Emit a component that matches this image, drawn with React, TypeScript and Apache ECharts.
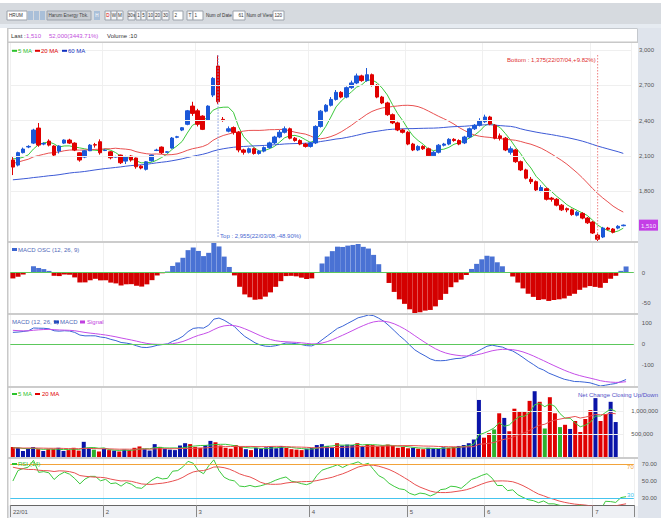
import React, { useEffect, useRef } from 'react';
import * as echarts from 'echarts';

// ---------- DATA ----------
const monthDays: [string, number[]][] = [
  ['01', [6, 7, 10, 11, 12, 13, 14, 17, 18, 19, 20, 21, 24, 25, 26, 27, 28, 31]],
  ['02', [2, 3, 4, 7, 8, 9, 10, 11, 14, 15, 16, 17, 18, 21, 22, 23, 24, 25]],
  ['03', [1, 2, 4, 7, 8, 9, 10, 11, 14, 15, 16, 17, 18, 21, 22, 23, 24, 25, 28, 29, 30, 31]],
  ['04', [1, 4, 5, 6, 7, 8, 11, 12, 13, 14, 18, 19, 20, 21, 22, 25, 26, 27, 28]],
  ['05', [9, 10, 11, 12, 13, 17, 18, 19, 20, 23, 24, 25, 27, 30, 31]],
  ['06', [2, 3, 6, 7, 8, 9, 10, 13, 14, 15, 16, 17, 20, 21, 22, 23, 24, 27, 28, 29, 30]],
  ['07', [1, 4, 5, 6, 7, 8, 11]],
];
const monthLabels = ['22/01', '2', '3', '4', '5', '6', '7'];

const opens = [
  2064, 2021, 2127, 2175, 2208, 2336, 2200, 2225, 2183, 2140, 2208, 2234, 2208, 2126, 2089, 2143, 2195, 2220, 2145, 2134,
  2090, 2106, 2055, 2098, 2081, 2012, 1985, 2058, 2145, 2174, 2130, 2166, 2258, 2319, 2368, 2523, 2483, 2438, 2404, 2617,
  2864, 2410, 2310, 2340, 2300, 2150, 2130, 2160, 2120, 2140, 2170, 2210, 2260, 2300, 2330, 2250, 2230, 2200, 2180, 2210,
  2350, 2480, 2530, 2580, 2640, 2600, 2680, 2720, 2780, 2740, 2790, 2700, 2600, 2550, 2450, 2380, 2320, 2300, 2200, 2150,
  2180, 2160, 2100, 2130, 2190, 2200, 2240, 2230, 2210, 2260, 2330, 2360, 2390, 2430, 2360, 2270, 2250, 2130, 2150, 2050,
  1980, 1900, 1880, 1800, 1820, 1740, 1730, 1680, 1650, 1640, 1595, 1610, 1570, 1536, 1425, 1409, 1485, 1477, 1485, 1505,
];
const closes = [
  2004, 2127, 2157, 2180, 2319, 2191, 2205, 2191, 2106, 2183, 2234, 2208, 2149, 2064, 2143, 2191, 2191, 2126, 2149, 2083,
  2092, 2041, 2092, 2064, 2007, 1996, 2049, 2106, 2149, 2126, 2134, 2251, 2262, 2339, 2483, 2461, 2368, 2325, 2523, 2759,
  2560, 2400, 2330, 2300, 2150, 2130, 2160, 2120, 2140, 2170, 2210, 2260, 2300, 2330, 2250, 2230, 2200, 2180, 2210, 2350,
  2480, 2530, 2580, 2640, 2600, 2680, 2720, 2780, 2740, 2790, 2700, 2600, 2550, 2450, 2380, 2320, 2300, 2200, 2150, 2180,
  2160, 2100, 2130, 2190, 2200, 2240, 2230, 2200, 2260, 2330, 2360, 2400, 2430, 2370, 2250, 2250, 2150, 2160, 2050, 1980,
  1910, 1880, 1810, 1830, 1730, 1730, 1680, 1640, 1640, 1600, 1620, 1570, 1530, 1443, 1390, 1485, 1475, 1450, 1500, 1510,
];
const lows = [
  1936, 2010, 2120, 2165, 2200, 2177, 2190, 2180, 2090, 2120, 2200, 2200, 2140, 2050, 2080, 2140, 2170, 2110, 2140, 2070,
  2085, 2030, 2030, 2050, 1990, 1985, 1975, 2050, 2140, 2115, 2125, 2160, 2250, 2310, 2360, 2440, 2350, 2319, 2400, 2600,
  2540, 2390, 2300, 2280, 2130, 2110, 2120, 2110, 2110, 2130, 2160, 2200, 2250, 2290, 2240, 2220, 2190, 2170, 2170, 2200,
  2340, 2470, 2520, 2570, 2590, 2590, 2670, 2710, 2730, 2730, 2690, 2590, 2540, 2440, 2370, 2310, 2290, 2190, 2140, 2140,
  2150, 2090, 2090, 2120, 2180, 2190, 2220, 2190, 2200, 2250, 2320, 2350, 2380, 2360, 2240, 2230, 2140, 2110, 2040, 1970,
  1900, 1860, 1800, 1790, 1720, 1710, 1670, 1630, 1620, 1590, 1585, 1560, 1520, 1435, 1375, 1400, 1465, 1440, 1475, 1500,
];
const highs = [
  2089, 2135, 2170, 2190, 2330, 2379, 2215, 2240, 2190, 2190, 2240, 2245, 2215, 2130, 2150, 2200, 2210, 2240, 2155, 2140,
  2100, 2110, 2100, 2105, 2085, 2020, 2055, 2110, 2160, 2180, 2140, 2260, 2270, 2345, 2490, 2560, 2500, 2445, 2530, 2770,
  2955, 2430, 2350, 2350, 2310, 2160, 2170, 2170, 2150, 2180, 2220, 2270, 2320, 2350, 2340, 2260, 2240, 2210, 2220, 2360,
  2490, 2540, 2600, 2660, 2650, 2690, 2740, 2800, 2790, 2847, 2800, 2710, 2610, 2560, 2460, 2390, 2330, 2310, 2210, 2190,
  2190, 2170, 2140, 2200, 2210, 2250, 2250, 2240, 2270, 2340, 2370, 2420, 2450, 2440, 2370, 2290, 2260, 2180, 2160, 2060,
  1990, 1920, 1890, 1850, 1830, 1750, 1740, 1690, 1660, 1650, 1630, 1620, 1580, 1545, 1440, 1495, 1495, 1485, 1510, 1515,
];
const volumes = [
  217000, 200000, 130000, 180000, 217000, 170000, 130000, 170000, 170000, 200000, 130000, 150000, 200000, 140000, 330000, 200000, 160000, 120000, 180000, 150000,
  140000, 120000, 160000, 150000, 200000, 230000, 170000, 140000, 280000, 220000, 180000, 160000, 150000, 250000, 300000, 280000, 220000, 200000, 260000, 350000,
  320000, 250000, 200000, 180000, 260000, 220000, 170000, 150000, 200000, 180000, 210000, 230000, 190000, 240000, 200000, 170000, 160000, 150000, 180000, 200000,
  260000, 280000, 240000, 220000, 300000, 250000, 270000, 260000, 300000, 240000, 280000, 260000, 230000, 250000, 270000, 240000, 200000, 220000, 190000, 200000,
  180000, 170000, 200000, 190000, 180000, 210000, 200000, 220000, 240000, 260000, 300000, 380000, 1240000, 420000, 520000, 600000, 950000, 850000, 560000, 1050000,
  980000, 1000000, 1220000, 1430000, 1200000, 620000, 1300000, 950000, 650000, 700000, 610000, 783000, 543000, 826000, 1020000, 1280000, 783000, 935000, 1200000, 760000,
];
// estimated closes/volumes before the visible window (needed for MA/MACD/RSI warm-up)
const priorCloses = [
  1900, 1880, 1920, 1950, 1930, 1890, 1860, 1880, 1850, 1820, 1800, 1830, 1860, 1840, 1810, 1790, 1770, 1800, 1820, 1790,
  1760, 1740, 1760, 1790, 1810, 1780, 1750, 1770, 1800, 1830, 1820, 1790, 1810, 1840, 1860, 1830, 1800, 1820, 1850, 1870,
  1880, 1910, 1940, 1920, 1960, 2000, 1980, 2030, 2060, 2040, 2090, 2120, 2100, 2130, 2150, 2120, 2100, 2080, 2070,
];
const priorVolumes = [
  180000, 200000, 160000, 210000, 190000, 170000, 220000, 180000, 200000, 190000, 230000, 210000, 180000, 200000, 220000, 190000, 210000, 200000, 180000,
];

const priceTicks = [1800, 2100, 2400, 2700, 3000];
const oscTicks = [0, -50];
const macdTicks = [100, 0, -100];
const volTicks = [500000, 1000000];
const rsiTicks = [30, 50, 70];

// ---------- HELPERS ----------
const W = 661, H = 518;
const FONT = 'Liberation Sans';
const GL = 10.3, GW = 623.5;

function sma(arr: number[], n: number) {
  return arr.map((_, i) => {
    if (i < n - 1) return null;
    let s = 0;
    for (let k = i - n + 1; k <= i; k++) s += arr[k];
    return s / n;
  });
}
function ema(arr: number[], n: number) {
  const k = 2 / (n + 1);
  let e = arr[0];
  return arr.map((v, i) => (i === 0 ? e : (e = v * k + e * (1 - k))));
}
function rsi(arr: number[], n: number) {
  const out: (number | null)[] = [null];
  let ag = 0, al = 0;
  for (let i = 1; i < arr.length; i++) {
    const d = arr[i] - arr[i - 1];
    const g = Math.max(d, 0), l = Math.max(-d, 0);
    if (i <= n) {
      ag += g / n; al += l / n;
      out.push(i === n ? 100 - 100 / (1 + ag / (al || 1e-9)) : null);
    } else {
      ag = (ag * (n - 1) + g) / n; al = (al * (n - 1) + l) / n;
      out.push(100 - 100 / (1 + ag / (al || 1e-9)));
    }
  }
  return out;
}
const fmt = (v: number) => v.toLocaleString('en-US');

export default function App() {
  const ref = useRef<HTMLDivElement>(null);
  useEffect(() => {
    const el = ref.current!;
    const chart = echarts.init(el, null, { renderer: 'svg', width: W, height: H });
    const N = closes.length;
    const dates: string[] = [];
    const monthStart: Record<number, string> = {};
    monthDays.forEach(([m, days], mi) => {
      monthStart[dates.length] = monthLabels[mi];
      days.forEach((d) => dates.push(`22/${m}/${String(d).padStart(2, '0')}`));
    });
    const cats = dates.concat(['']);
    const isMonth = (i: number) => monthStart[i] !== undefined;

    const all = priorCloses.concat(closes);
    const P = priorCloses.length;
    const tail = (a: (number | null)[]) => a.slice(P);
    const ma5 = tail(sma(all, 5));
    const ma20 = tail(sma(all, 20));
    const ma60 = tail(sma(all, 60));
    const e12 = ema(all, 12), e26 = ema(all, 26);
    const macdAll = e12.map((v, i) => v - e26[i]);
    const sigAll = ema(macdAll, 9);
    const macd = macdAll.slice(P);
    const sig = sigAll.slice(P);
    const osc = macd.map((v, i) => v - sig[i]);
    const rsiAll = rsi(all, 14);
    const rsiSig = sma(rsiAll.map((v) => (v == null ? 0 : v)), 9);
    const rsiV = tail(rsiAll);
    const rsiS = tail(rsiSig);
    const vAll = priorVolumes.concat(volumes);
    const PV = priorVolumes.length;
    const vma5 = sma(vAll, 5).slice(PV);
    const vma20 = sma(vAll, 20).slice(PV);

    const grids = [
      { top: 43, height: 198 },
      { top: 243, height: 70 },
      { top: 315, height: 71 },
      { top: 388, height: 69 },
      { top: 459, height: 46 },
    ];
    const xAxes = grids.map((_, gi) => ({
      type: 'category',
      gridIndex: gi,
      data: cats,
      boundaryGap: true,
      axisLine: { show: gi === 4, lineStyle: { color: '#666', width: 1 } },
      axisTick: { show: gi === 4, interval: (i: number) => isMonth(i), length: 12, lineStyle: { color: '#888' } },
      axisLabel: {
        show: gi === 4,
        interval: (i: number) => isMonth(i),
        formatter: (_v: string, i: number) => monthStart[i] || '',
        align: 'left',
        margin: 4,
        fontSize: 6,
        fontFamily: FONT,
        color: '#555',
      },
      splitLine: { show: true, interval: (i: number) => isMonth(i), lineStyle: { color: '#f0f0f0', width: 1 } },
    }));
    const yBase = (gi: number, min: any, max: any, ticks: number[], formatter: any, extra: any = {}) => ({
      type: 'value',
      gridIndex: gi,
      position: 'right',
      min,
      max,
      scale: true,
      axisLine: { show: false },
      axisTick: { show: false },
      splitLine: { show: false },
      axisLabel: {
        customValues: ticks,
        formatter,
        fontSize: 6,
        fontFamily: FONT,
        color: '#555',
        align: 'left',
        margin: 8,
        ...extra,
      },
    });
    const lastClose = closes[N - 1];
    const yAxes = [
      yBase(0, 1375, 3060, priceTicks.concat([lastClose]), (v: number) => (v === lastClose ? `{hl|${fmt(v)}}` : fmt(v)), {
        rich: { hl: { backgroundColor: '#c43ee6', color: '#f4e8ff', fontSize: 6, fontFamily: FONT, padding: [3, 2, 2, 2] } },
      }),
      yBase(1, 'dataMin', 'dataMax', oscTicks, (v: number) => String(v)),
      yBase(2, 'dataMin', 'dataMax', macdTicks, (v: number) => String(v)),
      yBase(3, 0, 1500000, volTicks, (v: number) => fmt(v)),
      yBase(4, 21.8, 75.9, rsiTicks, (v: number) => v.toFixed(2)),
    ];

    const gridLines = (ticks: number[], color = '#efefef') => ({
      silent: true,
      symbol: 'none',
      label: { show: false },
      lineStyle: { color, type: 'solid', width: 1 },
      data: ticks.map((t) => ({ yAxis: t })),
    });
    const line = (gi: number, data: any[], color: string, z = 3) => ({
      type: 'line',
      xAxisIndex: gi,
      yAxisIndex: gi,
      data,
      symbol: 'none',
      lineStyle: { color, width: 1 },
      z,
    });

    const UP = '#1b58d8', DOWN = '#e00000';
    const series: any[] = [
      {
        type: 'candlestick',
        xAxisIndex: 0,
        yAxisIndex: 0,
        data: closes.map((c, i) => [opens[i], c, lows[i], highs[i]]),
        barWidth: 4,
        itemStyle: { color: UP, color0: DOWN, borderColor: UP, borderColor0: DOWN, borderWidth: 1 },
        markLine: gridLines(priceTicks),
        z: 4,
      },
      line(0, ma5, '#3cc83c'),
      line(0, ma20, '#e85050'),
      line(0, ma60, '#3d5ad6'),
      {
        type: 'bar',
        xAxisIndex: 1,
        yAxisIndex: 1,
        barWidth: 5,
        data: osc.map((v) => ({ value: v, itemStyle: { color: v >= 0 ? '#4a72d4' : '#d40000' } })),
        markLine: { ...gridLines([0], '#5cc85c'), z: 5 },
      },
      line(2, macd, '#3a64d6'),
      line(2, sig, '#c54ee8'),
      {
        type: 'line',
        xAxisIndex: 2,
        yAxisIndex: 2,
        data: [],
        markLine: gridLines([0], '#5cc85c'),
      },
      {
        type: 'bar',
        xAxisIndex: 3,
        yAxisIndex: 3,
        barWidth: 4,
        data: volumes.map((v, i) => {
          const prev = i === 0 ? priorCloses[P - 1] : closes[i - 1];
          const col = closes[i] > prev ? '#0a14a8' : closes[i] < prev ? '#e00000' : '#2fb02f';
          return { value: v, itemStyle: { color: col } };
        }),
        markLine: gridLines(volTicks),
      },
      line(3, vma5, '#3cc83c', 5),
      line(3, vma20, '#e85050', 5),
      line(4, rsiV, '#3cc83c'),
      line(4, rsiS, '#e85050'),
      {
        type: 'line',
        xAxisIndex: 4,
        yAxisIndex: 4,
        data: [],
        markLine: {
          silent: true,
          symbol: 'none',
          data: [
            { yAxis: 70, lineStyle: { color: '#f2a33a', width: 1, type: 'solid' }, label: { show: true, position: 'insideEndBottom', formatter: '70', color: '#f2a33a', fontSize: 6, fontFamily: FONT, distance: [0, 0] } },
            { yAxis: 30, lineStyle: { color: '#45c4ee', width: 1, type: 'solid' }, label: { show: true, position: 'insideEndTop', formatter: '30', color: '#45c4ee', fontSize: 6, fontFamily: FONT, distance: [0, 0] } },
          ],
        },
      },
    ];

    const txt = (x: number, y: number, text: string, fill = '#333', extra: any = {}) => ({
      type: 'text',
      x,
      y,
      style: { text, fill, fontSize: 6, fontFamily: FONT, verticalAlign: 'middle', ...extra },
      z: 100,
    });
    const ttxt = (x: number, y: number, text: string, fill = '#333', extra: any = {}) =>
      txt(x, y, text, fill, { fontSize: 4.6, ...extra });
    const rect = (x: number, y: number, w: number, h: number, style: any) => ({ type: 'rect', shape: { x, y, width: w, height: h }, style, z: 90 });
    const box = (x: number, w: number, label: string, fill = '#f4f5f7', color = '#333') => [
      rect(x, 11, w, 9, { fill, stroke: '#9ba2ab', lineWidth: 1 }),
      ttxt(x + w / 2, 15.8, label, color, { align: 'center' }),
    ];

    const bg: any[] = [
      { type: 'rect', shape: { x: 0, y: 0, width: W, height: H }, style: { fill: '#ffffff' }, z: -10, silent: true },
      { type: 'rect', shape: { x: 0, y: 3, width: W, height: 21 }, style: { fill: '#d6dadf' }, z: -9 },
      { type: 'rect', shape: { x: 0, y: 24, width: W, height: 4 }, style: { fill: '#e6ebf1' }, z: -9 },
      { type: 'rect', shape: { x: 638, y: 28, width: 23, height: 490 }, style: { fill: '#dfe4ec' }, z: -9 },
      { type: 'rect', shape: { x: 7, y: 506, width: 631, height: 12 }, style: { fill: '#eef0f4' }, z: -9 },
    ];
    const toolbar: any[] = [
      rect(7, 11, 20, 9, { fill: '#fff', stroke: '#9ba2ab', lineWidth: 1 }),
      ttxt(9, 15.8, 'HRUM', '#333'),
      rect(28, 11, 5, 9, { fill: '#a9bfd8' }),
      rect(34, 11, 5, 9, { fill: '#a9bfd8' }),
      rect(40, 11, 5, 9, { fill: '#a9bfd8' }),
      rect(47, 11, 44, 9, { fill: '#c8ccd2', stroke: '#9ba2ab', lineWidth: 1 }),
      ttxt(48.5, 15.8, 'Harum Energy Tbk.', '#444'),
      rect(94, 11, 6, 9, { fill: '#a9bfd8' }),
      ttxt(97, 15.8, 'H', '#fff', { align: 'center' }),
      ...box(105, 6, 'D', '#f4f5f7', '#e00000'),
      ...box(111, 6, 'W'),
      ...box(117, 6, 'M'),
      ...box(128, 7, '30s'),
      ...box(136, 5, '1'),
      ...box(141, 5, '5'),
      ...box(147, 7, '10'),
      ...box(154, 7, '20'),
      ...box(162, 7, '30'),
      rect(173, 11, 10, 9, { fill: '#fff', stroke: '#9ba2ab', lineWidth: 1 }),
      ttxt(174.5, 15.8, '2'),
      ...box(187, 6, 'T'),
      rect(193, 11, 10, 9, { fill: '#fff', stroke: '#9ba2ab', lineWidth: 1 }),
      ttxt(194.5, 15.8, '1'),
      ttxt(206, 15.8, 'Num of Date', '#333'),
      rect(233, 11, 12, 9, { fill: '#fff', stroke: '#9ba2ab', lineWidth: 1 }),
      ttxt(243.5, 15.8, '61', '#333', { align: 'right' }),
      ttxt(246.5, 15.8, 'Num of View', '#333'),
      rect(273, 11, 11, 9, { fill: '#fff', stroke: '#9ba2ab', lineWidth: 1 }),
      ttxt(274.5, 15.8, '120'),
    ];
    const frame: any[] = [
      { type: 'rect', shape: { x: 7.5, y: 28.5, width: 630, height: 14 }, style: { fill: 'none', stroke: '#c4c8cd', lineWidth: 1 }, z: 80 },
      rect(7, 41.5, 631, 1.5, { fill: '#c8c8c8' }),
      rect(7, 241, 631, 2, { fill: '#cccccc' }),
      rect(7, 313, 631, 2, { fill: '#cccccc' }),
      rect(7, 386, 631, 2, { fill: '#cccccc' }),
      rect(7, 457, 631, 2, { fill: '#cccccc' }),
      rect(7, 28, 1.5, 490, { fill: '#c8c8c8' }),
      txt(11, 36, 'Last : ', '#333'),
      txt(26, 36, fmt(lastClose), '#c24fdc'),
      txt(49, 36, '52,000(3443.71%)', '#c24fdc'),
      txt(107, 36, 'Volume :10', '#333'),
      // price legend
      rect(12, 49.8, 5, 2, { fill: '#2cc22c' }), txt(18, 51, '5 MA', '#2cc22c'),
      rect(35, 49.8, 5, 2, { fill: '#e00000' }), txt(41, 51, '20 MA', '#e00000'),
      rect(62, 49.8, 5, 2, { fill: '#1030c0' }), txt(68, 51, '60 MA', '#1030c0'),
      // osc legend
      rect(12, 248, 5, 3, { fill: '#3a64d0' }), txt(18, 249.5, 'MACD OSC (12, 26, 9)', '#5068b8'),
      // macd legend
      txt(12, 322, 'MACD (12, 26, 9)', '#5068b8'),
      rect(54, 320.5, 5, 3, { fill: '#1040c0' }), txt(60, 322, 'MACD', '#5068b8'),
      rect(80, 320.5, 5, 3, { fill: '#c040e0' }), txt(87, 322, 'Signal', '#c040e0'),
      // volume legend
      rect(12, 393, 5, 2, { fill: '#2cc22c' }), txt(18, 394, '5 MA', '#2cc22c'),
      rect(35, 393, 5, 2, { fill: '#e00000' }), txt(42, 394, '20 MA', '#e00000'),
      txt(578, 395, 'Net Change Closing Up/Down', '#5050c8'),
      // rsi legend
      rect(12, 463, 5, 2, { fill: '#2cc22c' }), txt(18, 464, 'RSI (14)', '#2cc22c'),
    ];

    const option: any = {
      animation: false,
      backgroundColor: '#ffffff',
      textStyle: { fontFamily: FONT },
      grid: grids.map((g) => ({ left: GL, width: GW, top: g.top, height: g.height, containLabel: false })),
      xAxis: xAxes,
      yAxis: yAxes,
      series,
      graphic: bg.concat(toolbar, frame),
    };
    chart.setOption(option);

    // annotations anchored to the data through the chart's own scales
    let topIdx = 0, botIdx = 0;
    highs.forEach((h, i) => { if (h > highs[topIdx]) topIdx = i; });
    lows.forEach((l, i) => { if (l < lows[botIdx]) botIdx = i; });
    const pTop = chart.convertToPixel({ gridIndex: 0 }, [topIdx, highs[topIdx]]) as number[];
    const pBot = chart.convertToPixel({ gridIndex: 0 }, [botIdx, lows[botIdx]]) as number[];
    const gTop = grids[0].top, gBot = grids[0].top + grids[0].height;
    const pct = (a: number, b: number) => ((a / b - 1) * 100).toFixed(2);
    const topText = `Top : ${fmt(highs[topIdx])}(${dates[topIdx]},${pct(lastClose, highs[topIdx])}%)`;
    const botText = `Bottom : ${fmt(lows[botIdx])}(${dates[botIdx]},+${pct(lastClose, lows[botIdx])}%)`;
    const ann: any[] = [
      { type: 'line', shape: { x1: pTop[0], y1: pTop[1], x2: pTop[0], y2: gBot - 3 }, style: { stroke: '#7d95dc', lineWidth: 1, lineDash: [1.5, 1.5] }, z: 50 },
      txt(pTop[0] + 2, gBot - 5, topText, '#4a68d0'),
      { type: 'line', shape: { x1: pBot[0], y1: gTop + 12, x2: pBot[0], y2: pBot[1] }, style: { stroke: '#ef8080', lineWidth: 1, lineDash: [1.5, 1.5] }, z: 50 },
      txt(pBot[0] - 2, gTop + 17, botText, '#e03030', { align: 'right' }),
    ];
    chart.setOption({ graphic: bg.concat(toolbar, frame, ann) }, { replaceMerge: ['graphic'] });

    return () => chart.dispose();
  }, []);
  return <div ref={ref} style={{ position: 'fixed', left: 0, top: 0, width: W, height: H }} />;
}
